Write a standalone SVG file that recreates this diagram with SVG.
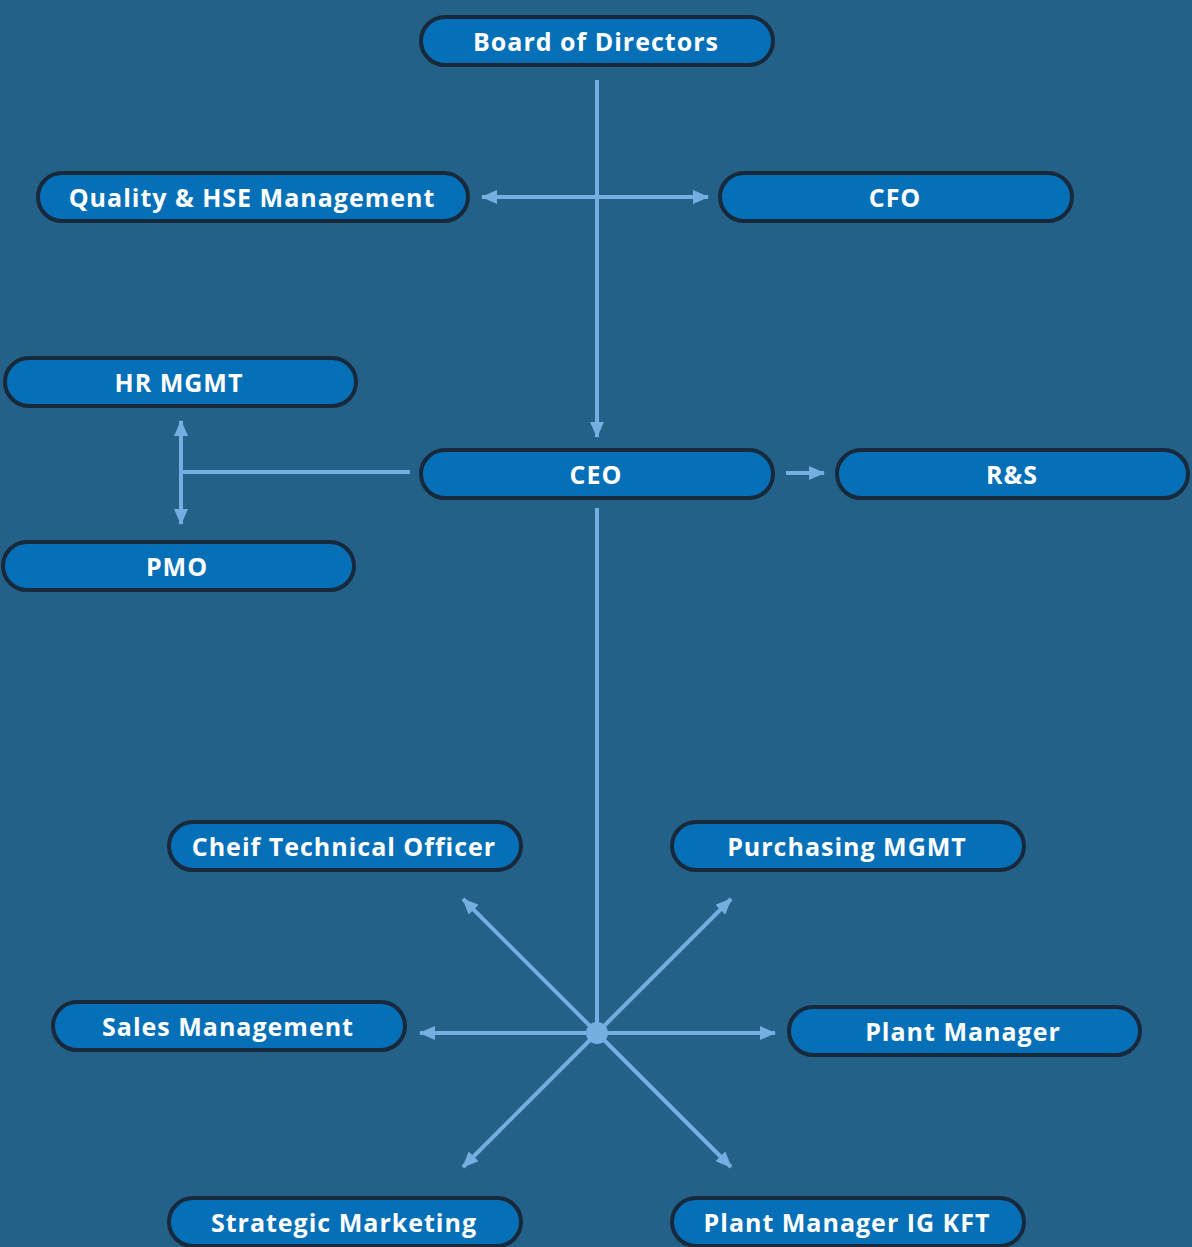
<svg xmlns="http://www.w3.org/2000/svg" width="1192" height="1247" viewBox="0 0 1192 1247">
<defs>
<style>
.bg{fill:#246188}
.node rect{fill:#0570B8;stroke:#17293A;stroke-width:4}
.node text{fill:#FFFFFF;font-family:"Open Sans","Liberation Sans",sans-serif;font-weight:700;font-size:25px;letter-spacing:1px;text-anchor:middle;dominant-baseline:central}
.conn line{stroke:#75AEE0;stroke-width:4;fill:none}
</style>
<marker id="ah" viewBox="0 0 16 14" refX="15" refY="7" markerWidth="16" markerHeight="14" markerUnits="userSpaceOnUse" orient="auto-start-reverse">
<path d="M0,0 L16,7 L0,14 z" fill="#75AEE0"/>
</marker>
</defs>
<rect class="bg" x="0" y="0" width="1192" height="1247"/>
<g id="connectors" class="conn">
<line x1="597" y1="80" x2="597" y2="437" marker-end="url(#ah)"/>
<line x1="482" y1="197" x2="708" y2="197" marker-start="url(#ah)" marker-end="url(#ah)"/>
<line x1="410" y1="472" x2="181" y2="472"/>
<line x1="181" y1="421" x2="181" y2="524" marker-start="url(#ah)" marker-end="url(#ah)"/>
<line x1="786" y1="473" x2="824" y2="473" marker-end="url(#ah)"/>
<line x1="597" y1="508" x2="597" y2="1033"/>
<line x1="597" y1="1033" x2="463" y2="899" marker-end="url(#ah)"/>
<line x1="597" y1="1033" x2="731" y2="899" marker-end="url(#ah)"/>
<line x1="597" y1="1033" x2="420" y2="1033" marker-end="url(#ah)"/>
<line x1="597" y1="1033" x2="775" y2="1033" marker-end="url(#ah)"/>
<line x1="597" y1="1033" x2="463" y2="1167" marker-end="url(#ah)"/>
<line x1="597" y1="1033" x2="731" y2="1167" marker-end="url(#ah)"/>
<circle cx="597" cy="1033" r="11" fill="#75AEE0"/>
</g>
<g id="board" class="node"><rect x="421" y="17" width="352" height="48" rx="24"/><text x="596" y="41">Board of Directors</text></g>
<g id="quality" class="node"><rect x="38" y="173" width="430" height="48" rx="24"/><text x="252" y="197">Quality &amp; HSE Management</text></g>
<g id="cfo" class="node"><rect x="720" y="173" width="352" height="48" rx="24"/><text x="895" y="197">CFO</text></g>
<g id="hr" class="node"><rect x="5" y="358" width="351" height="48" rx="24"/><text x="179" y="382">HR MGMT</text></g>
<g id="ceo" class="node"><rect x="421" y="450" width="352" height="48" rx="24"/><text x="596" y="474">CEO</text></g>
<g id="rs" class="node"><rect x="837" y="450" width="351" height="48" rx="24"/><text x="1012" y="474">R&amp;S</text></g>
<g id="pmo" class="node"><rect x="3" y="542" width="351" height="48" rx="24"/><text x="177" y="566">PMO</text></g>
<g id="cto" class="node"><rect x="169" y="822" width="352" height="48" rx="24"/><text x="344" y="846">Cheif Technical Officer</text></g>
<g id="purchasing" class="node"><rect x="672" y="822" width="352" height="48" rx="24"/><text x="847" y="846">Purchasing MGMT</text></g>
<g id="sales" class="node"><rect x="53" y="1002" width="352" height="48" rx="24"/><text x="228" y="1026">Sales Management</text></g>
<g id="plant" class="node"><rect x="789" y="1007" width="351" height="48" rx="24"/><text x="963" y="1031">Plant Manager</text></g>
<g id="strategic" class="node"><rect x="169" y="1198" width="352" height="48" rx="24"/><text x="344" y="1222">Strategic Marketing</text></g>
<g id="plantig" class="node"><rect x="672" y="1198" width="352" height="48" rx="24"/><text x="847" y="1222">Plant Manager IG KFT</text></g>
</svg>
